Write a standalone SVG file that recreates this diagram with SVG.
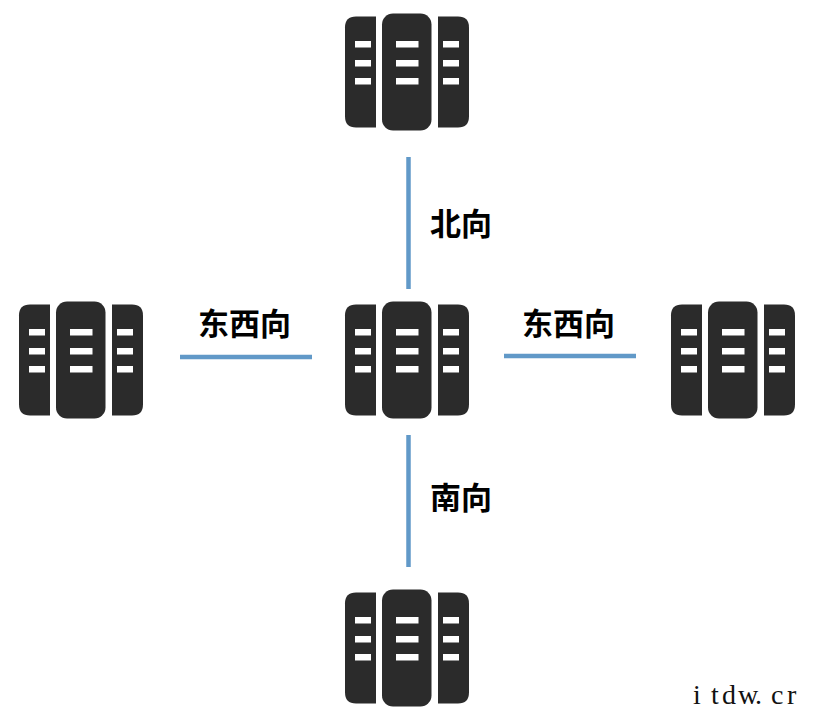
<svg xmlns="http://www.w3.org/2000/svg" width="817" height="719" viewBox="0 0 817 719">
<style>
.b{fill:#2b2b2b}
.s{fill:#fff}
.c{stroke:#6199c8;stroke-width:4.5;fill:none}
.l{font-family:"Noto Sans CJK SC","Liberation Sans",sans-serif;font-weight:700;font-size:31px;fill:#000}
.w{font-family:"Liberation Serif",serif;font-size:28px;fill:#111}
</style>
<defs>
<g id="srv">
<path class="b" d="M376 16.5V127.5H356Q345 127.500 345 116.500V27.500Q345 16.500 356 16.500Z"/>
<rect class="b" x="382" y="13.500" width="49.500" height="117" rx="11"/>
<path class="b" d="M438 16.500V127.500H458Q469 127.500 469 116.500V27.500Q469 16.500 458 16.500Z"/>
<g class="s">
<rect x="355" y="41" width="16" height="6.500"/><rect x="355" y="60" width="16" height="6.500"/><rect x="355" y="78" width="16" height="6.500"/>
<rect x="396" y="41" width="22.500" height="6.500"/><rect x="396" y="60" width="22.500" height="6.500"/><rect x="396" y="78" width="22.500" height="6.500"/>
<rect x="443" y="41" width="16" height="6.500"/><rect x="443" y="60" width="16" height="6.500"/><rect x="443" y="78" width="16" height="6.500"/>
</g>
</g>
</defs>
<g id="connectors">
<line class="c" x1="408.500" y1="157" x2="408.500" y2="289"/>
<line class="c" x1="408.500" y1="435" x2="408.500" y2="567"/>
<line class="c" x1="180" y1="357" x2="312" y2="357"/>
<line class="c" x1="504" y1="356" x2="636" y2="356"/>
</g>
<g id="node-top"><use href="#srv"/></g>
<g id="node-center"><use href="#srv" y="288"/></g>
<g id="node-left"><use href="#srv" x="-326" y="288"/></g>
<g id="node-right"><use href="#srv" x="326" y="288"/></g>
<g id="node-bottom"><use href="#srv" y="576"/></g>
<g id="labels">
<text class="l" x="430" y="235">北向</text>
<text class="l" x="430" y="509">南向</text>
<text class="l" x="198" y="335">东西向</text>
<text class="l" x="522" y="335">东西向</text>
</g>
<text class="w" x="693 711 722 738 755 771 787" y="704">itdw.cr</text>
</svg>
